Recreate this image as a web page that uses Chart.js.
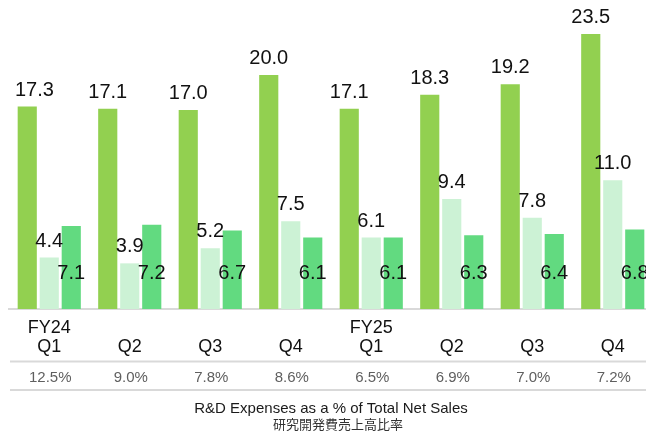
<!DOCTYPE html>
<html>
<head>
<meta charset="utf-8">
<script src="https://cdn.jsdelivr.net/npm/chart.js@4"></script>
<style>
  html, body { margin: 0; padding: 0; background: #fff; overflow: hidden; }
  #wrap { width: 646px; height: 432px; overflow: hidden; }
</style>
</head>
<body>
<div id="wrap"><canvas id="myChart" width="653" height="432"></canvas></div>
<script>
const quarters = [['FY24', 'Q1'], ['', 'Q2'], ['', 'Q3'], ['', 'Q4'], ['FY25', 'Q1'], ['', 'Q2'], ['', 'Q3'], ['', 'Q4']];
const seriesA = [17.3, 17.1, 17.0, 20.0, 17.1, 18.3, 19.2, 23.5];
const seriesB = [4.4, 3.9, 5.2, 7.5, 6.1, 9.4, 7.8, 11.0];
const seriesC = [7.1, 7.2, 6.7, 6.1, 6.1, 6.3, 6.4, 6.8];
const ratioLabels = ['12.5%', '9.0%', '7.8%', '8.6%', '6.5%', '6.9%', '7.0%', '7.2%'];
const titleText = 'R&D Expenses as a % of Total Net Sales';
const subtitleText = '研究開発費売上高比率';

const FONT = '"Liberation Sans", Arial, sans-serif';

// values above the bars, third series sits low near the base
const valueLabels = {
  id: 'valueLabels',
  afterDatasetsDraw(chart) {
    const ctx = chart.ctx;
    const area = chart.chartArea;
    ctx.save();
    ctx.font = '20px ' + FONT;
    ctx.fillStyle = '#111';
    ctx.textAlign = 'center';
    ctx.textBaseline = 'alphabetic';
    chart.data.datasets.forEach((ds, i) => {
      const meta = chart.getDatasetMeta(i);
      meta.data.forEach((bar, j) => {
        const txt = ds.data[j].toFixed(1);
        const w = ctx.measureText(txt).width;
        // keep label from running off the left edge
        const x = Math.max(bar.x, 15 + w / 2);
        const y = i === 2 ? area.bottom - 30 : bar.y - 11;
        ctx.fillText(txt, x, y);
      });
    });
    ctx.restore();
  }
};

// ratio row, separator lines and bottom titles
const footer = {
  id: 'footer',
  afterDraw(chart) {
    const ctx = chart.ctx;
    const area = chart.chartArea;
    const xs = chart.scales.x;
    ctx.save();
    ctx.strokeStyle = '#d9d9d9';
    ctx.lineWidth = 2;
    [361.5, 390].forEach(y => {
      ctx.beginPath();
      ctx.moveTo(area.left + 1, y);
      ctx.lineTo(area.right, y);
      ctx.stroke();
    });
    ctx.font = '15px ' + FONT;
    ctx.fillStyle = '#5f5f5f';
    ctx.textAlign = 'center';
    ctx.textBaseline = 'alphabetic';
    ratioLabels.forEach((t, i) => {
      ctx.fillText(t, xs.getPixelForTick(i) + 1, 381.5);
    });
    const cx = (area.left + area.right) / 2;
    ctx.fillStyle = '#1a1a1a';
    ctx.font = '15px ' + FONT;
    ctx.fillText(titleText, cx, 412.5);
    ctx.fillStyle = '#333';
    ctx.font = '13px "Noto Sans CJK JP", sans-serif';
    ctx.textBaseline = 'middle';
    ctx.fillText(subtitleText, cx + 7, 424);
    ctx.restore();
  }
};

const data = {
  labels: quarters,
  datasets: [
    { data: seriesA, backgroundColor: '#92d050' },
    { data: seriesB, backgroundColor: '#ccf2d5' },
    { data: seriesC, backgroundColor: '#62da80' }
  ]
};

const config = {
  type: 'bar',
  data,
  options: {
    responsive: false,
    animation: false,
    layout: { padding: { left: 9, right: 0, top: 0, bottom: 0 } },
    datasets: {
      bar: { categoryPercentage: 0.82, barPercentage: 0.87 }
    },
    plugins: {
      legend: { display: false },
      tooltip: { enabled: false },
      title: { display: false }
    },
    scales: {
      y: {
        display: false,
        min: 0,
        max: 26.4
      },
      x: {
        afterFit: (s) => { s.height = 123; },
        grid: { display: false },
        border: { display: true, color: '#d9d9d9', width: 2 },
        ticks: {
          autoSkip: false,
          maxRotation: 0,
          padding: 2,
          color: '#111',
          font: { family: FONT, size: 18, lineHeight: 1.02 }
        }
      }
    }
  },
  plugins: [valueLabels, footer]
};

const myChart = new Chart(document.getElementById('myChart'), config);
</script>
</body>
</html>
